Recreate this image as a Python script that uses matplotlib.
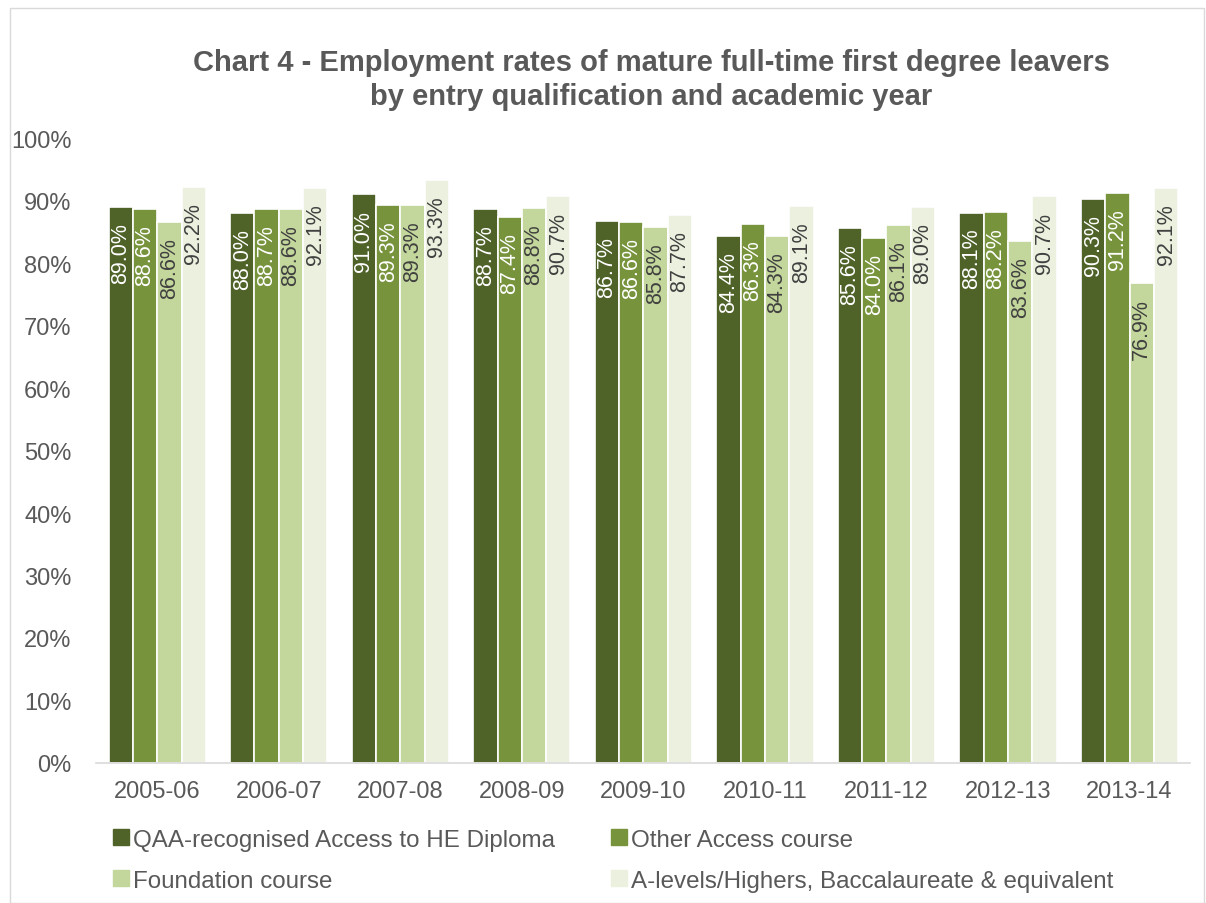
import numpy as np
import matplotlib.pyplot as plt
from matplotlib.patches import Rectangle
from matplotlib.lines import Line2D

plt.rcParams['font.family'] = ['Liberation Sans', 'DejaVu Sans']

years = ['2005-06', '2006-07', '2007-08', '2008-09', '2009-10',
         '2010-11', '2011-12', '2012-13', '2013-14']
series_names = ['QAA-recognised Access to HE Diploma', 'Other Access course',
                'Foundation course', 'A-levels/Highers, Baccalaureate & equivalent']
qaa = [89.0, 88.0, 91.0, 88.7, 86.7, 84.4, 85.6, 88.1, 90.3]
other_access = [88.6, 88.7, 89.3, 87.4, 86.6, 86.3, 84.0, 88.2, 91.2]
foundation = [86.6, 88.6, 89.3, 88.8, 85.8, 84.3, 86.1, 83.6, 76.9]
alevels = [92.2, 92.1, 93.3, 90.7, 87.7, 89.1, 89.0, 90.7, 92.1]

colors = ['#4F6228', '#77933C', '#C3D69B', '#EBF1DE']
label_colors = ['white', 'white', '#404040', '#404040']
grey = '#595959'

fig = plt.figure(figsize=(12.06, 9.04), dpi=100)
ax = fig.add_axes([0.080, 0.155, 0.907, 0.691])

x = np.arange(len(years))
w = 0.2
data = [qaa, other_access, foundation, alevels]
for i, vals in enumerate(data):
    pos = x + (i - 1.5) * w
    ax.bar(pos, vals, w, color=colors[i], edgecolor='white', linewidth=1.2,
           label=series_names[i])
    for xp, v in zip(pos, vals):
        ax.annotate(f'{v:.1f}%', (xp, v), xytext=(0, -11), textcoords='offset points',
                    rotation=90, ha='center', va='top', fontsize=15.5,
                    color=label_colors[i])

ax.set_xlim(-0.5, len(years) - 0.5)
ax.set_ylim(0, 100)
ax.set_yticks(range(0, 101, 10))
ax.set_yticklabels([f'{t}%' for t in range(0, 101, 10)])
ax.set_xticks(x)
ax.set_xticklabels(years)
ax.tick_params(axis='both', length=0, labelsize=17, colors=grey)
ax.tick_params(axis='x', pad=12)
ax.tick_params(axis='y', pad=18)
for s in ['top', 'right', 'left']:
    ax.spines[s].set_visible(False)
ax.spines['bottom'].set_color('#D9D9D9')
ax.spines['bottom'].set_linewidth(1.2)

fig.text(0.54, 0.912, 'Chart 4 - Employment rates of mature full-time first degree leavers\n'
         'by entry qualification and academic year', ha='center', va='center',
         fontsize=21, fontweight='bold', color=grey, linespacing=1.27)

handles = [Line2D([], [], marker='s', linestyle='', markersize=11,
                  markerfacecolor=c, markeredgecolor=c) for c in colors]
order = [0, 2, 1, 3]
fig.legend([handles[i] for i in order], [series_names[i] for i in order],
           ncol=2, loc='upper left', bbox_to_anchor=(0.087, 0.093), frameon=False,
           fontsize=17.4, labelcolor=grey, handlelength=0.55, handletextpad=0.2,
           columnspacing=2.4, labelspacing=0.8, borderaxespad=0)

fig.patches.append(Rectangle((0.008, 0.0), 0.99, 0.99, transform=fig.transFigure,
                             fill=False, edgecolor='#D9D9D9', linewidth=1))

fig.savefig('out.png', dpi=100)
